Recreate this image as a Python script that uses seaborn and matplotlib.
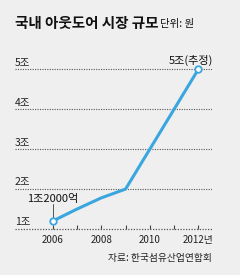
import numpy as np
import pandas as pd
import matplotlib.pyplot as plt
import matplotlib.transforms as mtransforms
import seaborn as sns

# 국내 아웃도어 시장 규모 (단위: 조원)
years = [2006, 2007, 2008, 2009, 2010, 2011, 2012]
market = [1.2, 1.5, 1.78, 2.0, 3.0, 4.0, 5.0]
y_ticks = [1, 2, 3, 4, 5]
y_labels = ['1조', '2조', '3조', '4조', '5조']
x_labels = ['2006', '', '2008', '', '2010', '', '2012년']

bg = '#efefef'
blue = '#3aa6df'

sns.set_theme(style='white')
plt.rcParams['font.family'] = ['Noto Sans CJK KR', 'DejaVu Sans']

df = pd.DataFrame({'year': years, 'value': market})

fig = plt.figure(figsize=(2.4, 2.75), dpi=100, facecolor=bg)
ax = fig.add_axes([0.0625, 0.167, 0.82, 0.615])
ax.set_facecolor(bg)

sns.lineplot(data=df, x='year', y='value', ax=ax, color=blue, linewidth=2.2, zorder=3)
# 끝점 표시
ends = df.iloc[[0, -1]]
ax.scatter(ends['year'], ends['value'], s=22, facecolor='white', edgecolor=blue,
           linewidth=1.3, zorder=4)

ax.set_xlim(2004.45, 2012.55)
ax.set_ylim(1.0, 5.23)

# 점선 격자
for v in y_ticks[1:]:
    ax.axhline(v, color='#555555', linestyle=(0, (1, 1.2)), linewidth=0.8, zorder=1)
ax.axhline(1.0, color='#555555', linestyle=(0, (1, 1.2)), linewidth=0.9, zorder=1, clip_on=False)

trans = mtransforms.blended_transform_factory(ax.transAxes, ax.transData)
for v, lab in zip(y_ticks, y_labels):
    ax.text(0.0, v + 0.04, lab, transform=trans, fontsize=7.5, ha='left', va='bottom',
            color='#222222')

for s in ax.spines.values():
    s.set_visible(False)
ax.set_yticks([])
ax.set_xticks(years)
ax.set_xticklabels(x_labels, fontsize=7, color='#222222')
ax.tick_params(axis='x', direction='in', length=3, width=0.8, color='#444444', pad=4, bottom=True)
ax.set_xlabel('')
ax.set_ylabel('')

# 주석
ax.plot([2006, 2006], [1.2, 1.62], color='#555555', linewidth=0.7, zorder=2)
ax.text(2006, 1.63, '1조2000억', fontsize=8, ha='center', va='bottom', color='#111111')
ax.text(2011.7, 5.08, '5조(추정)', fontsize=8, ha='center', va='bottom', color='#111111')

fig.text(0.0625, 0.915, '국내 아웃도어 시장 규모', fontsize=10.5, fontweight='bold',
         ha='left', va='center', color='#111111')
fig.text(0.665, 0.913, '단위: 원', fontsize=7.5, ha='left', va='center', color='#111111')
fig.text(0.883, 0.062, '자료: 한국섬유산업연합회', fontsize=7, ha='right', va='center',
         color='#222222')

fig.savefig('out.png', dpi=100, facecolor=bg)
